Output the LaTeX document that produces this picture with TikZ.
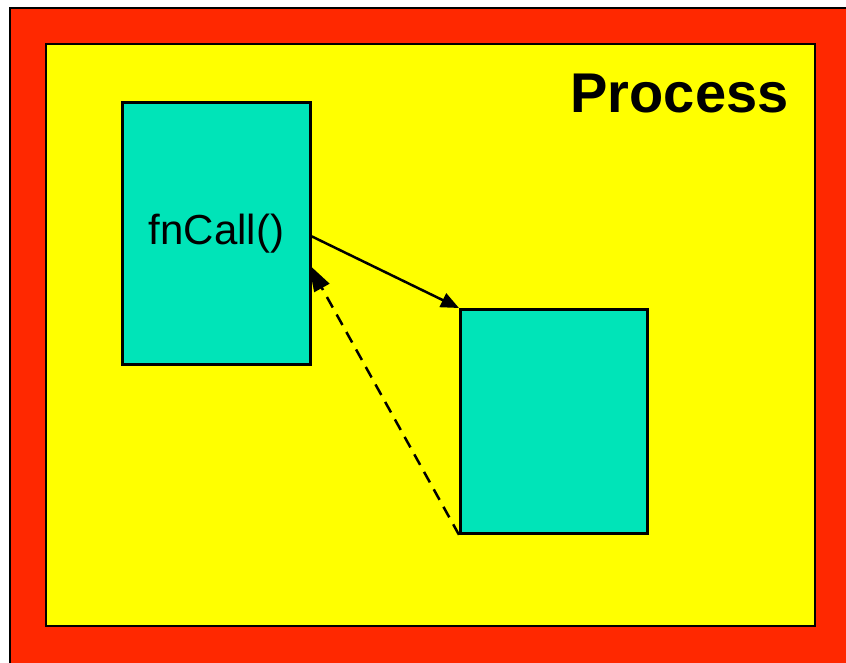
\documentclass[tikz,border=0pt]{standalone}
\usepackage{fontspec}
\setmainfont{Liberation Sans}
\usetikzlibrary{arrows.meta}
\definecolor{frame}{RGB}{255,40,0}
\definecolor{area}{RGB}{255,255,0}
\definecolor{teal}{RGB}{0,228,184}
\pgfdeclarelayer{back}
\pgfdeclarelayer{edges}
\pgfsetlayers{back,edges,main}
\begin{document}
\begin{tikzpicture}
[
x=1pt, y=-1pt,
box/.style={draw=black, line width=2.8pt, fill=teal, anchor=north west, inner sep=0pt, font=\fontsize{42}{46}\selectfont},
link/.style={line width=2.5pt, -{Triangle[length=18pt,width=15pt]}}
]
\useasboundingbox (0,0) rectangle (846,662);
\clip (0,0) rectangle (846,662);
\node[box, minimum width=188pt, minimum height=262pt] (caller) at (121,101) {fnCall()};
\node[box, minimum width=187pt, minimum height=224pt] (callee) at (459,308) {};
\node[anchor=base east, font=\fontsize{56}{60}\selectfont\bfseries] (title) at (792,112) {Process};

\begin{pgfonlayer}{back}
\draw[line width=2.8pt, fill=frame] (10,8) rectangle (870,690);
\draw[line width=2.8pt, fill=area] (46,44) rectangle (815,626);
\end{pgfonlayer}

\begin{pgfonlayer}{edges}
\draw[link] ([yshift=-3pt] caller.east) -- (callee.north west);
\draw[link, dash pattern=on 12pt off 8pt, -{Triangle[length=27pt,width=17pt]}] (callee.south west) -- ([xshift=-3pt, yshift=-31pt] caller.east);
\end{pgfonlayer}
\end{tikzpicture}
\end{document}
